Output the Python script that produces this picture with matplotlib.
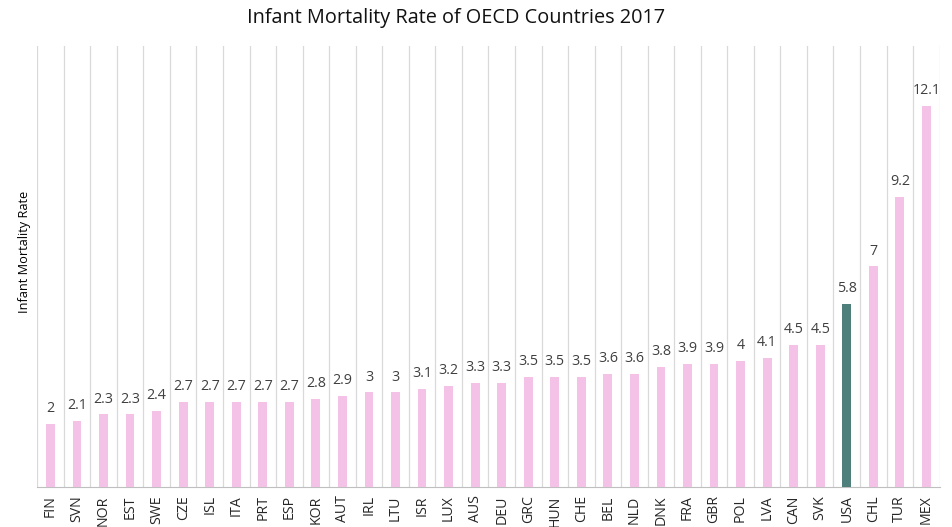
import matplotlib
matplotlib.use("Agg")
import matplotlib.pyplot as plt

plt.rcParams['font.family'] = ['Open Sans', 'DejaVu Sans']

countries = ["FIN", "SVN", "NOR", "EST", "SWE", "CZE", "ISL", "ITA", "PRT", "ESP",
             "KOR", "AUT", "IRL", "LTU", "ISR", "LUX", "AUS", "DEU", "GRC", "HUN",
             "CHE", "BEL", "NLD", "DNK", "FRA", "GBR", "POL", "LVA", "CAN", "SVK",
             "USA", "CHL", "TUR", "MEX"]
rates = [2, 2.1, 2.3, 2.3, 2.4, 2.7, 2.7, 2.7, 2.7, 2.7,
         2.8, 2.9, 3, 3, 3.1, 3.2, 3.3, 3.3, 3.5, 3.5,
         3.5, 3.6, 3.6, 3.8, 3.9, 3.9, 4, 4.1, 4.5, 4.5,
         5.8, 7, 9.2, 12.1]
labels = ["2", "2.1", "2.3", "2.3", "2.4", "2.7", "2.7", "2.7", "2.7", "2.7",
          "2.8", "2.9", "3", "3", "3.1", "3.2", "3.3", "3.3", "3.5", "3.5",
          "3.5", "3.6", "3.6", "3.8", "3.9", "3.9", "4", "4.1", "4.5", "4.5",
          "5.8", "7", "9.2", "12.1"]

pink = "#f5c2e7"
teal = "#4f7f7a"
colors = [teal if c == "USA" else pink for c in countries]

fig = plt.figure(figsize=(9.53, 5.27), dpi=100)
ax = fig.add_axes([0.039, 0.076, 0.947, 0.837])

x = list(range(len(countries)))
ax.bar(x, rates, width=0.33, color=colors, zorder=3)

for xi, r, lab in zip(x, rates, labels):
    ax.text(xi, r + 0.25, lab, ha="center", va="bottom", fontsize=10.3, color="#404040")

ax.set_xlim(-0.5, len(countries) - 0.5)
ax.set_ylim(0, 14)

# vertical separators between categories
for b in range(len(countries) + 1):
    ax.axvline(b - 0.5, color="#d9d9d9", lw=0.9, zorder=1)

ax.set_xticks(x)
ax.set_xticklabels(countries, rotation=90, fontsize=10.2, color="#262626")
ax.tick_params(axis="x", length=0, pad=6)
ax.set_yticks([])

for s in ["top", "right", "left"]:
    ax.spines[s].set_visible(False)
ax.spines["bottom"].set_color("#bfbfbf")

fig.text(25 / 953, 1 - 252 / 527, "Infant Mortality Rate", rotation=90,
         ha="center", va="center", fontsize=9.2, color="#000000")
fig.text(456 / 953, 1 - 18 / 527, "Infant Mortality Rate of OECD Countries 2017",
         ha="center", va="center", fontsize=14.3, color="#111111")

fig.savefig("out.png", dpi=100)
